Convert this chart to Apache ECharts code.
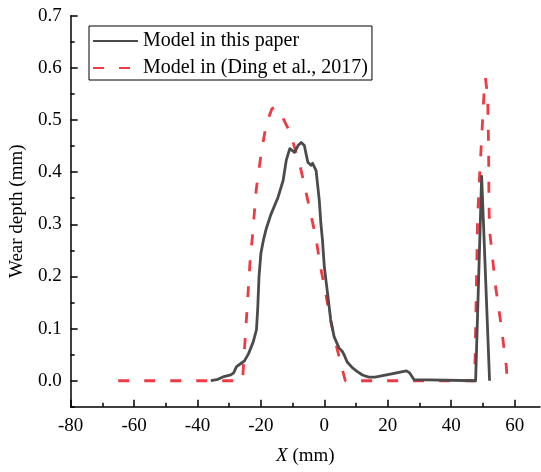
<!DOCTYPE html>
<html>
<head>
<meta charset="utf-8">
<script src="https://cdn.jsdelivr.net/npm/echarts@6/dist/echarts.min.js"></script>
<style>
  html, body { margin: 0; padding: 0; background: #fff; }
  #chart { width: 541px; height: 472px; }
</style>
</head>
<body>
<div id="chart"></div>
<script>
// Wear depth profile along X for the two models
const seriesNames = ['Model in this paper', 'Model in (Ding et al., 2017)'];

const paperX = [-35.8, -33.9, -31.7, -29.5, -28.6, -27.7, -26.1, -25.2, -23.9, -22.4,
  -21.4, -21.0, -20.6, -20.0, -19.2, -18.3, -16.9, -14.6, -13.0, -12.0,
  -10.9, -10.4, -9.4, -8.3, -7.3, -6.3, -5.8, -5.2, -4.2, -3.7,
  -2.6, -1.6, -1.1, -0.6, 0.0, 1.0, 2.0, 3.1, 4.6, 5.7,
  6.2, 7.2, 8.8, 10.3, 12.0, 14.0, 16.0, 21.2, 25.9, 26.9,
  28.3, 28.8, 47.7, 49.6, 52.1];
const paperY = [0.000, 0.002, 0.008, 0.011, 0.015, 0.027, 0.034, 0.038, 0.052, 0.075,
  0.098, 0.140, 0.200, 0.245, 0.270, 0.292, 0.318, 0.352, 0.384, 0.423,
  0.445, 0.442, 0.438, 0.451, 0.457, 0.451, 0.436, 0.419, 0.413, 0.417,
  0.403, 0.346, 0.302, 0.270, 0.218, 0.168, 0.117, 0.084, 0.063, 0.056,
  0.050, 0.036, 0.025, 0.018, 0.011, 0.007, 0.007, 0.013, 0.019, 0.015,
  0.002, 0.000, 0.000, 0.392, 0.000];

const dingX = [-65.0, -25.8, -23.3, -22.7, -21.5, -19.9, -18.3, -16.5, -15.3, -13.6,
  -10.8, -7.7, -5.9, -2.7, -1.2, 0.4, 1.9, 4.1, 6.6, 47.4,
  48.3, 48.7, 49.6, 50.5, 50.8, 51.5, 51.8, 51.9, 52.1, 54.0,
  55.5, 57.4, 57.6];
const dingY = [0.000, 0.000, 0.241, 0.275, 0.366, 0.437, 0.493, 0.522, 0.524, 0.510,
  0.476, 0.413, 0.365, 0.275, 0.218, 0.168, 0.117, 0.059, 0.000, 0.000,
  0.306, 0.365, 0.465, 0.570, 0.580, 0.545, 0.440, 0.340, 0.289, 0.180,
  0.117, 0.027, 0.000];

const xMajor = [-80, -60, -40, -20, 0, 20, 40, 60];
const xMinor = [-70, -50, -30, -10, 10, 30, 50];
const yMajor = [0, 0.1, 0.2, 0.3, 0.4, 0.5, 0.6, 0.7];
const yMinor = [-0.05, 0.05, 0.15, 0.25, 0.35, 0.45, 0.55, 0.65];

const zip = (xs, ys) => xs.map((x, i) => [x, ys[i]]);

const FONT = 'Liberation Serif';
const axisLineStyle = { color: '#000', width: 1.5 };

const chart = echarts.init(document.getElementById('chart'), null, { renderer: 'canvas' });

chart.setOption({
  animation: false,
  backgroundColor: '#fff',
  grid: { left: 65, right: 1, top: 15.7, bottom: 65.2, containLabel: false },
  legend: {
    orient: 'vertical',
    left: 89,
    top: 26,
    data: seriesNames,
    borderColor: '#000',
    borderWidth: 1,
    padding: [5, 4, 2, 3],
    itemWidth: 45,
    itemHeight: 14,
    itemGap: 7,
    itemStyle: { opacity: 0 },
    textStyle: { fontFamily: FONT, fontSize: 20, color: '#000', lineHeight: 20 }
  },
  xAxis: [
    {
      type: 'value', min: -80, max: 68, interval: 20,
      name: '{i|X} (mm)', nameLocation: 'middle', nameGap: 40,
      nameTextStyle: {
        fontFamily: FONT, fontSize: 19, color: '#000',
        rich: { i: { fontFamily: FONT, fontSize: 19, fontStyle: 'italic', color: '#000' } }
      },
      axisLine: { show: true, onZero: false, lineStyle: axisLineStyle },
      axisTick: { show: true, inside: true, length: 7, lineStyle: axisLineStyle, customValues: xMajor },
      axisLabel: { fontFamily: FONT, fontSize: 19, color: '#000', margin: 10, customValues: xMajor },
      splitLine: { show: false }
    },
    {
      type: 'value', min: -80, max: 68, position: 'bottom',
      axisLine: { show: false, onZero: false },
      axisTick: { show: true, inside: true, length: 4, lineStyle: axisLineStyle, customValues: xMinor },
      axisLabel: { show: false },
      splitLine: { show: false }
    }
  ],
  yAxis: [
    {
      type: 'value', min: -0.05, max: 0.7,
      name: 'Wear depth (mm)', nameLocation: 'middle', nameGap: 39, nameRotate: 90,
      nameTextStyle: { fontFamily: FONT, fontSize: 19, color: '#000' },
      axisLine: { show: true, onZero: false, lineStyle: axisLineStyle },
      axisTick: { show: true, inside: true, length: 7, lineStyle: axisLineStyle, customValues: yMajor },
      axisLabel: {
        fontFamily: FONT, fontSize: 19, color: '#000', margin: 9, customValues: yMajor,
        formatter: v => v.toFixed(1)
      },
      splitLine: { show: false }
    },
    {
      type: 'value', min: -0.05, max: 0.7, position: 'left',
      axisLine: { show: false, onZero: false },
      axisTick: { show: true, inside: true, length: 4, lineStyle: axisLineStyle, customValues: yMinor },
      axisLabel: { show: false },
      splitLine: { show: false }
    }
  ],
  series: [
    {
      name: seriesNames[0],
      type: 'line',
      data: zip(paperX, paperY),
      showSymbol: false,
      symbol: 'none',
      z: 3,
      lineStyle: { color: '#4b4b4b', width: 2.8, join: 'round' },
      itemStyle: { color: '#4b4b4b' }
    },
    {
      name: seriesNames[1],
      type: 'line',
      data: zip(dingX, dingY),
      showSymbol: false,
      symbol: 'none',
      z: 2,
      lineStyle: { color: '#ef3a44', width: 2.8, type: [11, 15] },
      itemStyle: { color: '#ef3a44' }
    }
  ]
});
</script>
</body>
</html>
